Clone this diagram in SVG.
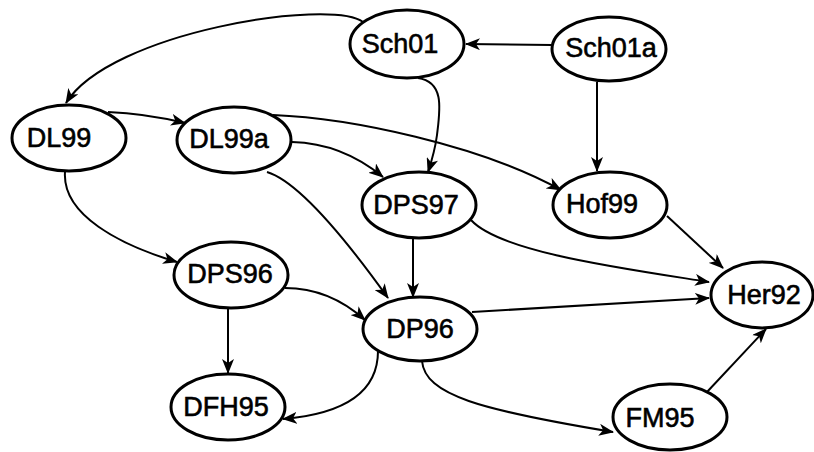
<svg xmlns="http://www.w3.org/2000/svg" width="814" height="452" viewBox="0 0 814 452">
<style>
.node ellipse{fill:#fff;stroke:#000;stroke-width:3}
.node text{font-family:"Liberation Sans",Arial,sans-serif;font-size:27px;text-anchor:middle;fill:#000;stroke:#000;stroke-width:0.6}
.edges path{fill:none;stroke:#000;stroke-width:2;marker-end:url(#arr)}
</style>
<defs>
<marker id="arr" markerUnits="userSpaceOnUse" markerWidth="16" markerHeight="12" refX="14" refY="6" orient="auto" viewBox="0 0 16 12">
<path d="M0,0 L15,6 L0,12 L4,6 z" fill="#000"/>
</marker>
</defs>
<rect width="814" height="452" fill="#fff"/>
<g id="edges" class="edges">
<path d="M363,22 C330,-2 110,32 66,103"/>
<path d="M552,45 L466,44"/>
<path d="M597,82 L597,171"/>
<path d="M418,78 C445,82 440,110 437,135 C435,150 432,160 428,172"/>
<path d="M108,112 C135,113 160,117 185,123"/>
<path d="M273,115 C350,118 480,145 561,190"/>
<path d="M292,142 C330,143 360,158 383,177"/>
<path d="M267,172 C300,182 350,245 388,298"/>
<path d="M65,172 C62,215 120,245 177,262"/>
<path d="M228,308 L228,373"/>
<path d="M285,288 C320,288 345,302 365,320"/>
<path d="M413,238 L413,297"/>
<path d="M471,220 C500,252 620,268 709,282"/>
<path d="M472,312 L709,298"/>
<path d="M667,216 L723,268"/>
<path d="M707,392 L766,329"/>
<path d="M378,351 C378,400 330,415 283,419"/>
<path d="M422,361 C425,395 480,410 613,432"/>
</g>
<g id="Sch01" class="node"><ellipse cx="407" cy="44" rx="57" ry="34"/><text x="400" y="53">Sch01</text></g>
<g id="Sch01a" class="node"><ellipse cx="609" cy="49" rx="57" ry="32"/><text x="611" y="57">Sch01a</text></g>
<g id="DL99" class="node"><ellipse cx="69" cy="138" rx="57" ry="33"/><text x="59" y="147">DL99</text></g>
<g id="DL99a" class="node"><ellipse cx="234" cy="140" rx="57" ry="33"/><text x="229" y="148">DL99a</text></g>
<g id="DPS97" class="node"><ellipse cx="419" cy="205" rx="57" ry="33"/><text x="416" y="214">DPS97</text></g>
<g id="Hof99" class="node"><ellipse cx="610" cy="205" rx="57" ry="33"/><text x="602" y="213">Hof99</text></g>
<g id="DPS96" class="node"><ellipse cx="231" cy="275" rx="57" ry="33"/><text x="230" y="283">DPS96</text></g>
<g id="DP96" class="node"><ellipse cx="420" cy="329" rx="57" ry="32"/><text x="420" y="338">DP96</text></g>
<g id="Her92" class="node"><ellipse cx="762" cy="295" rx="51" ry="33"/><text x="764" y="304">Her92</text></g>
<g id="DFH95" class="node"><ellipse cx="228" cy="407" rx="57" ry="33"/><text x="226" y="416">DFH95</text></g>
<g id="FM95" class="node"><ellipse cx="670" cy="417" rx="57" ry="33"/><text x="660" y="427">FM95</text></g>
</svg>
